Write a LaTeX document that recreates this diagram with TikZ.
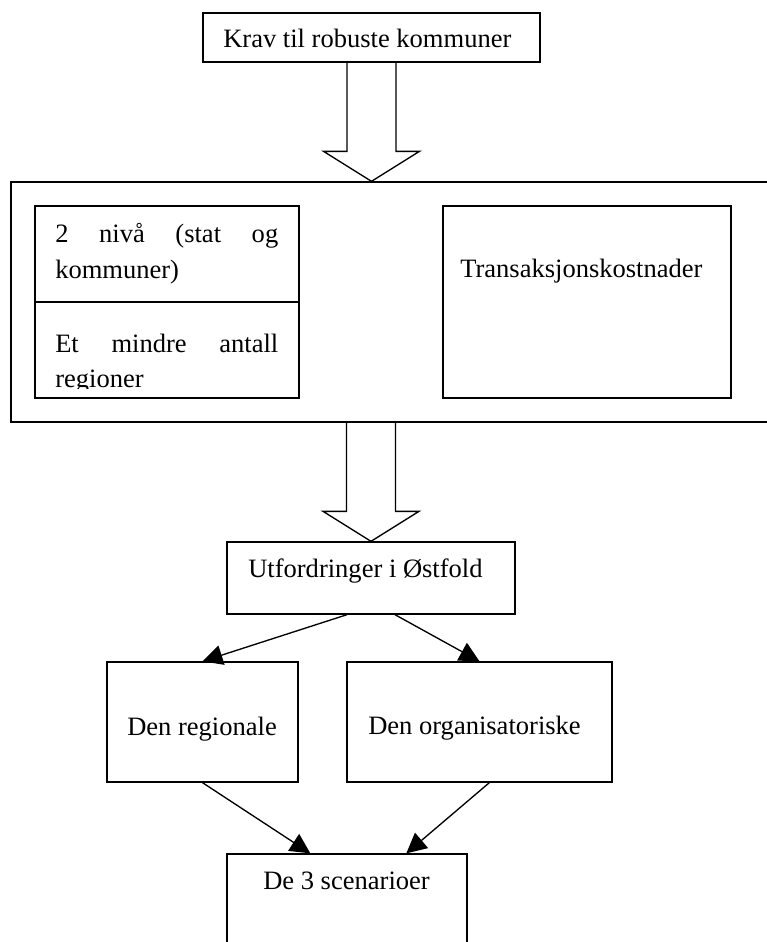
\documentclass[tikz,border=0pt]{standalone}
\usepackage{fontspec}
\setmainfont{Liberation Serif}
\usetikzlibrary{arrows.meta,calc,fit}
\begin{document}
\begin{tikzpicture}[x=0.75pt,y=-0.75pt,
  box/.style={draw, line width=1pt, inner sep=0pt, fit={#1}},
  txt/.style={anchor=base west, inner sep=0pt, font=\fontsize{19.9pt}{27pt}\selectfont},
  hollow/.style={draw, line width=1pt, line join=miter},
  conn/.style={line width=1pt, -{Triangle[length=15pt,width=15pt]}}]
\clip (0,0) rectangle (767,942);
% boxes
\node[box={(203,13) (540,62)}] (top) {};
\node[box={(11,182) (800,422)}] (cont) {};
\node[box={(35,206) (299,398)}] (lb) {};
\node[box={(443,206) (731,398)}] (rb) {};
\draw[line width=1pt] (lb.west) -- (lb.east);
\node[box={(227,542) (515,614)}] (utf) {};
\node[box={(107,662) (298,782)}] (reg) {};
\node[box={(347,662) (612,782)}] (org) {};
\node[box={(227,854) (467,960)}] (sce) {};
% texts
\node[txt] (tkrav) at (223,48) {Krav til robuste kommuner};
\node[txt] (tl1) at (55,242) {\makebox[167.25pt][s]{2 nivå (stat og}};
\node[txt] (tl2) at (55,278) {kommuner)};
\node[txt] (tl3) at (55,352) {\makebox[167.25pt][s]{Et mindre antall}};
\begin{scope}
  \clip (36,303) rectangle (298,388.5);
  \node[txt] (tl4) at (55,387) {regioner};
\end{scope}
\node[txt] (ttrans) at (460,277) {Transaksjonskostnader};
\node[txt] (tutf) at (248,577) {Utfordringer i Østfold};
\node[txt] (treg) at (127,735) {Den regionale};
\node[txt] (torg) at (368,734) {Den organisatoriske};
\node[txt] (tsce) at (263,889) {De 3 scenarioer};
% hollow block arrows
\coordinate (t1) at (top.south |- cont.north);
\draw[hollow] ($(t1)+(-24.5,-120)$) -- ($(t1)+(-24.5,-30)$) -- ($(t1)+(-48,-30)$) -- (t1)
  -- ($(t1)+(48,-30)$) -- ($(t1)+(24.5,-30)$) -- ($(t1)+(24.5,-120)$);
\coordinate (t2) at (utf.north);
\draw[hollow] ($(t2)+(-24.5,-120)$) -- ($(t2)+(-24.5,-30)$) -- ($(t2)+(-48,-30)$) -- (t2)
  -- ($(t2)+(48,-30)$) -- ($(t2)+(24.5,-30)$) -- ($(t2)+(24.5,-120)$);
% connectors
\draw[conn] ($(utf.south)+(-24,0)$) -- (reg.north);
\draw[conn] ($(utf.south)+(24,0)$) -- (org.north);
\draw[conn] (reg.south) -- ($(sce.north west)+(84,0)$);
\draw[conn] ($(org.south west)+(143,0)$) -- ($(sce.north west)+(180,0)$);
\end{tikzpicture}
\end{document}
